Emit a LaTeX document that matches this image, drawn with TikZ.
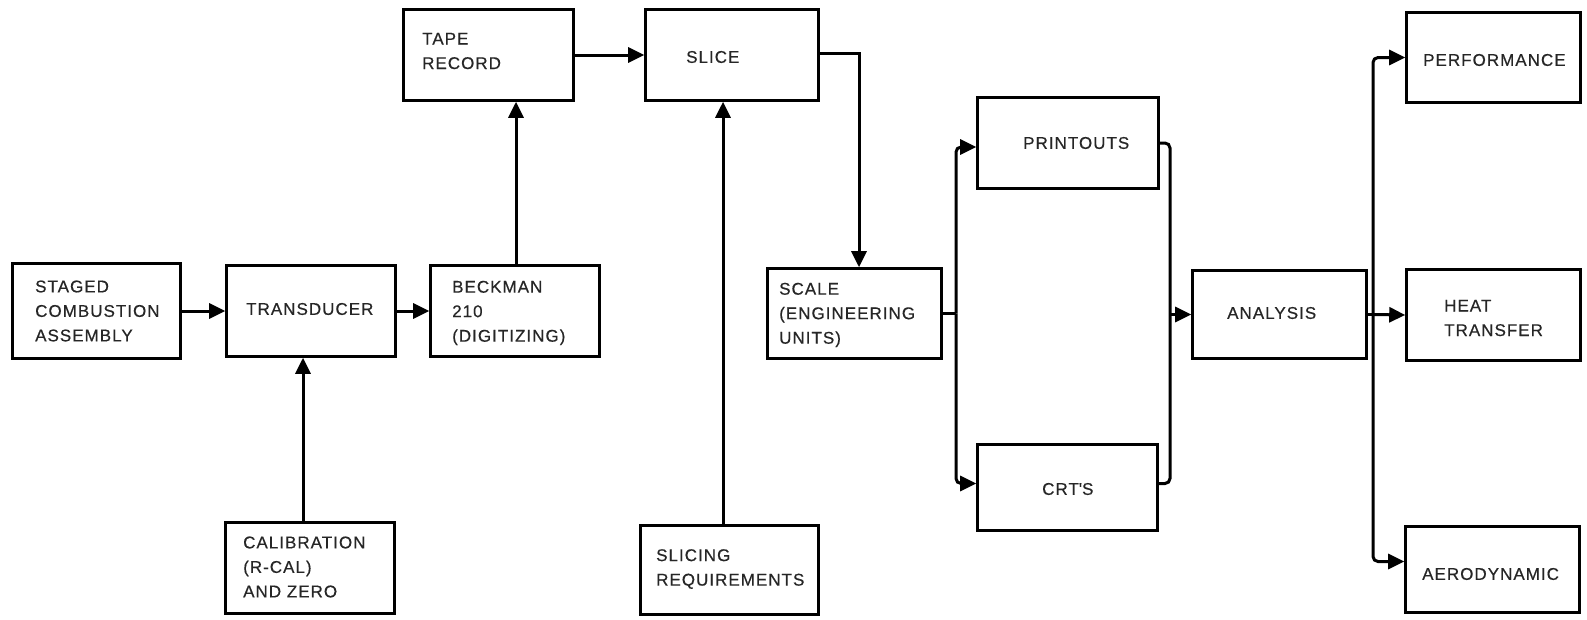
\documentclass[tikz,border=0pt]{standalone}
\usepackage{fontspec}
\setmainfont{Liberation Sans}[LetterSpace=6,FakeBold=0.5]
\usetikzlibrary{arrows.meta}
\begin{document}
\begin{tikzpicture}[x=1pt,y=-1pt,
  box/.style={draw, line width=2.6pt, inner sep=0pt},
  lbl/.style={anchor=west, align=left, inner sep=0pt, text=black!85,
              font=\fontsize{17}{24.5}\selectfont},
  flow/.style={line width=3pt, -{Triangle[length=16pt,width=15pt]}},
  wire/.style={line width=3pt},
]
\useasboundingbox (0,0) rectangle (1587,619);

% boxes (centre, width, height)
\node[box, minimum width=168pt, minimum height=95pt] (stg)   at (96.5,311)    {};
\node[box, minimum width=169pt, minimum height=91pt] (trd)   at (311,311)     {};
\node[box, minimum width=169pt, minimum height=91pt] (bkm)   at (515,311)     {};
\node[box, minimum width=170pt, minimum height=91pt] (tape)  at (488.5,55)    {};
\node[box, minimum width=173pt, minimum height=91pt] (slice) at (732,55)      {};
\node[box, minimum width=169pt, minimum height=91pt] (cal)   at (310,568)     {};
\node[box, minimum width=178pt, minimum height=89pt] (slreq) at (729.5,570)   {};
\node[box, minimum width=174pt, minimum height=90pt] (scale) at (854.5,313.5) {};
\node[box, minimum width=181pt, minimum height=91pt] (prt)   at (1068,143)    {};
\node[box, minimum width=180pt, minimum height=86pt] (crt)   at (1067.5,487.5){};
\node[box, minimum width=174pt, minimum height=88pt] (ana)   at (1279.5,314.5){};
\node[box, minimum width=174pt, minimum height=90pt] (perf)  at (1493.5,57.5) {};
\node[box, minimum width=174pt, minimum height=91pt] (heat)  at (1493.5,315)  {};
\node[box, minimum width=174pt, minimum height=86pt] (aero)  at (1492.5,569.5){};

% labels
\node[lbl] (stgT)   at (35,311)   {STAGED\\COMBUSTION\\ASSEMBLY};
\node[lbl] (trdT)   at (246,309)  {TRANSDUCER};
\node[lbl] (bkmT)   at (452,313)  {BECKMAN\\210\\(DIGITIZING)};
\node[lbl] (tapeT)  at (422,51)   {TAPE\\RECORD};
\node[lbl] (sliceT) at (686,57)   {SLICE};
\node[lbl] (calT)   at (243,567)  {CALIBRATION\\(R-CAL)\\AND ZERO};
\node[lbl] (slreqT) at (656,569)  {SLICING\\REQUIREMENTS};
\node[lbl] (scaleT) at (779,315)  {SCALE\\(ENGINEERING\\UNITS)};
\node[lbl] (prtT)   at (1023,143) {PRINTOUTS};
\node[lbl] (crtT)   at (1042,489) {CRT\textquotesingle S};
\node[lbl] (anaT)   at (1227,313) {ANALYSIS};
\node[lbl] (perfT)  at (1423,60)  {PERFORMANCE};
\node[lbl] (heatT)  at (1444,318) {HEAT\\TRANSFER};
\node[lbl] (aeroT)  at (1422,574) {AERODYNAMIC};

% branch and merge columns
\coordinate (b1) at (956,0);
\coordinate (m1) at (1170,0);
\coordinate (f1) at (1373,0);

% main chain
\draw[flow] (stg.east) -- (trd.west);
\draw[flow] (trd.east) -- (bkm.west);
\draw[flow] ([xshift=1]bkm.north) -- ([xshift=1]bkm.north |- tape.south);
\draw[flow] (tape.east) -- (tape.east -| slice.west);
\draw[flow] ([yshift=2]slice.east) -| ([xshift=4.5]scale.north);
\draw[flow] ([xshift=-6.5]slreq.north) -- ([xshift=-6.5]slreq.north |- slice.south);
\draw[flow] ([xshift=-7]cal.north) -- ([xshift=-7]cal.north |- trd.south);

% scale splits to printouts and CRT's
\draw[wire] (scale.east) -- (scale.east -| b1);
\draw[flow, rounded corners=5pt] (scale.east -| b1) |- ([yshift=-4]prt.west);
\draw[flow, rounded corners=5pt] (scale.east -| b1) |- ([yshift=4]crt.west);

% both outputs join into analysis
\draw[wire, rounded corners=5pt] (prt.east) -| (m1 |- ana.west) |- ([yshift=4]crt.east);
\draw[flow] (m1 |- ana.west) -- (ana.west);

% analysis fans out
\draw[wire] (ana.east) -- (ana.east -| f1);
\draw[flow, rounded corners=5pt] (ana.east -| f1) |- (perf.west);
\draw[flow] (ana.east -| f1) -- (heat.west);
\draw[flow, rounded corners=5pt] (ana.east -| f1) |- ([yshift=8]aero.west);
\end{tikzpicture}
\end{document}
